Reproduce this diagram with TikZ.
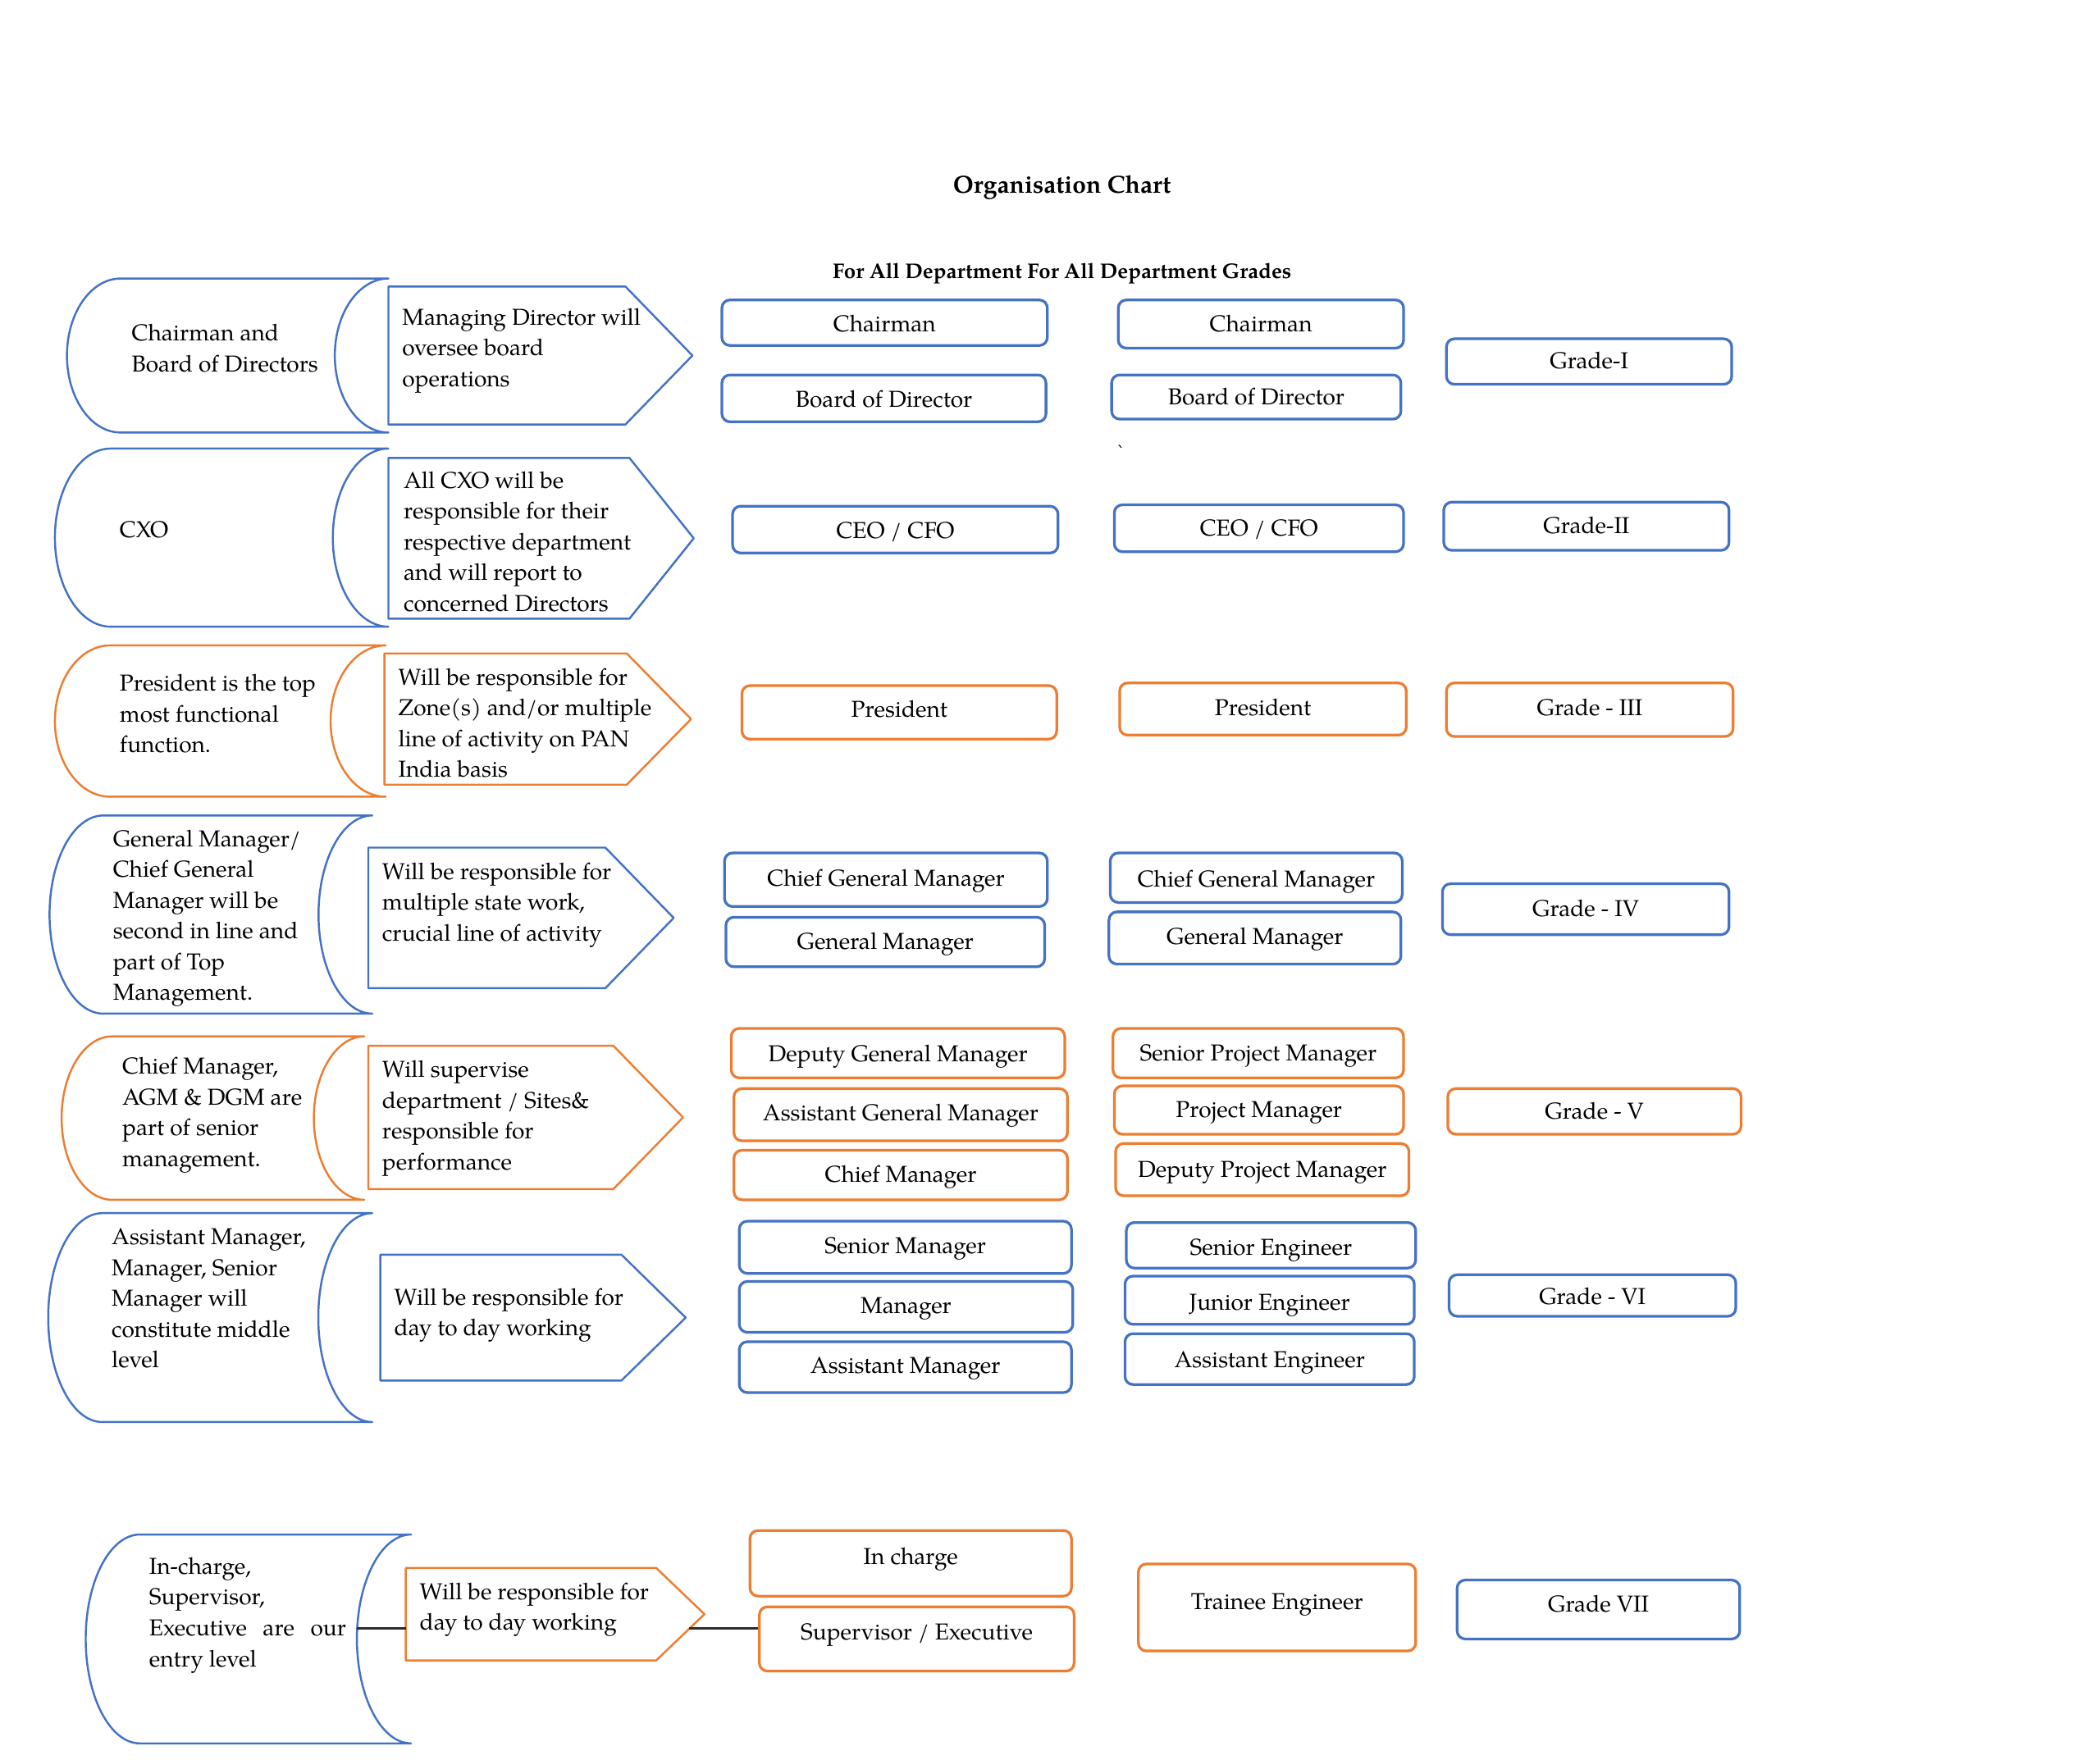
\documentclass[tikz,border=0pt]{standalone}
\usepackage{fontspec}
\setmainfont{TeX Gyre Pagella}
\newfontfamily\dejavu{DejaVu Sans}
\usetikzlibrary{calc}
\definecolor{oblue}{RGB}{68,114,196}
\definecolor{oorange}{RGB}{237,125,49}
\definecolor{connc}{RGB}{45,45,45}

\tikzset{
  shapeln/.style={line width=0.75pt, line join=round},
  rbox/.style={rectangle, rounded corners=3pt, line width=1pt, inner sep=0pt,
    text height=9.05pt, text depth=3.45pt, font=\fontsize{8.6}{11.5}\selectfont},
  txt/.style={align=left, inner sep=0pt, anchor=west, yshift=-1pt, font=\fontsize{8.6}{11.5}\selectfont},
  connline/.style={draw=connc, line width=0.8pt}
}

% scroll (stored data) shape: #1 name, #2 colour, #3 L, #4 T, #5 R, #6 B
\newcommand\ScrollShape[6]{%
  \pgfmathsetmacro\scA{(#5-#3)/6}%
  \pgfmathsetmacro\scM{(#4+#6)/2}%
  \pgfmathsetmacro\scH{(#6-#4)/2}%
  \pgfmathsetmacro\scKA{0.5523*\scA}%
  \pgfmathsetmacro\scKH{0.5523*\scH}%
  \draw[shapeln, draw=#2] ({#3+\scA},#4) -- (#5,#4)
    .. controls ({#5-\scKA},#4) and ({#5-\scA},{\scM-\scKH}) .. ({#5-\scA},\scM)
    .. controls ({#5-\scA},{\scM+\scKH}) and ({#5-\scKA},#6) .. (#5,#6)
    -- ({#3+\scA},#6)
    .. controls ({#3+\scA-\scKA},#6) and (#3,{\scM+\scKH}) .. (#3,\scM)
    .. controls (#3,{\scM-\scKH}) and ({#3+\scA-\scKA},#4) .. cycle;
  \coordinate (#1) at ({(#3+#5)/2},\scM);
}
% pentagon arrow: #1 name, #2 colour, #3 L, #4 T, #5 rect right, #6 B, #7 tip x
\newcommand\PentShape[7]{%
  \draw[shapeln, draw=#2] (#3,#4) -- (#5,#4) -- (#7,{(#4+#6)/2}) -- (#5,#6) -- (#3,#6) -- cycle;
  \coordinate (#1) at (#3,{(#4+#6)/2});
}
% rounded box: #1 name, #2 colour, #3 L, #4 T, #5 R, #6 B, #7 text
\newcommand\RBox[7]{%
  \node[rbox, draw=#2, minimum width={(#5-#3)*0.5pt}, minimum height={(#6-#4)*0.5pt}]
    (#1) at ({(#3+#5)/2},{(#4+#6)/2}) {#7};
}

\begin{document}
\begin{tikzpicture}[x=0.5pt,y=-0.5pt]
\useasboundingbox[fill=white] (0,0) rectangle (1568,1314);

% titles
\node[font=\fontsize{9.2}{11}\selectfont\bfseries, inner sep=0pt] (title) at (793,140) {Organisation Chart};
\node[font=\fontsize{7.9}{9}\selectfont\bfseries, inner sep=0pt] (subtitle) at (793,204) {For All Department For All Department Grades};

% left scroll shapes
\ScrollShape{s1}{oblue}{50}{208}{290}{323}
\ScrollShape{s2}{oblue}{41}{335}{290}{468}
\ScrollShape{s3}{oorange}{41}{482}{288}{595}
\ScrollShape{s4}{oblue}{37}{609}{278}{757}
\ScrollShape{s5}{oorange}{46}{774}{272}{896}
\ScrollShape{s6}{oblue}{36}{906}{278}{1062}
\ScrollShape{s7}{oblue}{64}{1146}{307}{1302}

% pentagons
\PentShape{p1}{oblue}{290}{214}{467}{317}{517}
\PentShape{p2}{oblue}{290}{342}{470}{462}{518}
\PentShape{p3}{oorange}{287}{488}{468}{586}{516}
\PentShape{p4}{oblue}{275}{633}{452}{738}{503}
\PentShape{p5}{oorange}{275}{781}{458}{888}{510}
\PentShape{p6}{oblue}{284}{937}{464}{1031}{512}
\PentShape{p7}{oorange}{303}{1171}{490}{1240}{526}

% texts in scroll shapes
\node[txt] (ts1) at (98,259.5) {\strut Chairman and\\Board of Directors\strut};
\node[txt] (ts2) at (89,395) {\strut CXO\strut};
\node[txt] (ts3) at (89,532.5) {\strut President is the top\\most functional\\function.\strut};
\node[txt] (ts4) at (84,683) {\strut General Manager/\\Chief General\\Manager will be\\second in line and\\part of Top\\Management.\strut};
\node[txt] (ts5) at (91,830) {\strut Chief Manager,\\AGM \& DGM are\\part of senior\\management.\strut};
\node[txt] (ts6) at (83,969) {\strut Assistant Manager,\\Manager, Senior\\Manager will\\constitute middle\\level\strut};
\node[txt] (ts7) at (111,1203.5) {\strut In-charge,\\Supervisor,\\\makebox[73.5pt][s]{Executive are our}\\entry level\strut};

% texts in pentagons
\node[txt] (tp1) at (300,259) {\strut Managing Director will\\oversee board\\operations\strut};
\node[txt] (tp2) at (301,404) {\strut All CXO will be\\responsible for their\\respective department\\and will report to\\concerned Directors\strut};
\node[txt] (tp3) at (297,539.5) {\strut Will be responsible for\\Zone(s) and/or multiple\\line of activity on PAN\\India basis\strut};
\node[txt] (tp4) at (285,673) {\strut Will be responsible for\\multiple state work,\\crucial line of activity\strut};
\node[txt] (tp5) at (285,832.5) {\strut Will supervise\\department / Sites\&\\responsible for\\performance\strut};
\node[txt] (tp6) at (294,979.5) {\strut Will be responsible for\\day to day working\strut};
\node[txt] (tp7) at (313,1199.5) {\strut Will be responsible for\\day to day working\strut};

% row 1
\RBox{c1a}{oblue}{539}{224}{782}{258}{\raisebox{-0.5pt}{Chairman}}
\RBox{c1b}{oblue}{539}{280}{781}{315}{\raisebox{-0.5pt}{Board of Director}}
\RBox{d1a}{oblue}{835}{224}{1048}{260}{Chairman}
\RBox{d1b}{oblue}{830}{280}{1046}{313}{Board of Director}
\RBox{g1}{oblue}{1080}{253}{1293}{287}{Grade-I}
\node[inner sep=0pt, font=\dejavu\fontsize{6}{7}\selectfont] (tick) at (837,337) {ˋ};
% row 2
\RBox{c2}{oblue}{547}{378}{790}{413}{\raisebox{-0.5pt}{CEO / CFO}}
\RBox{d2}{oblue}{832}{377}{1048}{412}{CEO / CFO}
\RBox{g2}{oblue}{1078}{375}{1291}{411}{Grade-II}
% row 3
\RBox{c3}{oorange}{554}{512}{789}{552}{\raisebox{1pt}{President}}
\RBox{d3}{oorange}{836}{510}{1050}{549}{\raisebox{0.5pt}{President}}
\RBox{g3}{oorange}{1080}{510}{1294}{550}{\raisebox{0.5pt}{Grade - III}}
% row 4
\RBox{c4a}{oblue}{541}{637}{782}{677}{\raisebox{0.5pt}{Chief General Manager}}
\RBox{c4b}{oblue}{542}{685}{780}{722}{General Manager}
\RBox{d4a}{oblue}{829}{637}{1047}{674}{\raisebox{-0.5pt}{Chief General Manager}}
\RBox{d4b}{oblue}{828}{681}{1046}{720}{\raisebox{0.5pt}{General Manager}}
\RBox{g4}{oblue}{1077}{660}{1291}{698}{Grade - IV}
% row 5
\RBox{c5a}{oorange}{546}{768}{795}{805}{\raisebox{-0.5pt}{Deputy General Manager}}
\RBox{c5b}{oorange}{548}{813}{797}{852}{\raisebox{0.5pt}{Assistant General Manager}}
\RBox{c5c}{oorange}{548}{859}{797}{896}{Chief Manager}
\RBox{d5a}{oorange}{831}{768}{1048}{805}{Senior Project Manager}
\RBox{d5b}{oorange}{832}{811}{1048}{847}{Project Manager}
\RBox{d5c}{oorange}{833}{854}{1052}{893}{Deputy Project Manager}
\RBox{g5}{oorange}{1081}{813}{1300}{847}{Grade - V}
% row 6
\RBox{c6a}{oblue}{552}{912}{800}{951}{\raisebox{0.5pt}{Senior Manager}}
\RBox{c6b}{oblue}{552}{957}{801}{995}{\raisebox{0.5pt}{Manager}}
\RBox{c6c}{oblue}{552}{1002}{800}{1040}{\raisebox{0.5pt}{Assistant Manager}}
\RBox{d6a}{oblue}{841}{913}{1057}{947}{\raisebox{-1pt}{Senior Engineer}}
\RBox{d6b}{oblue}{840}{953}{1056}{989}{\raisebox{-1pt}{Junior Engineer}}
\RBox{d6c}{oblue}{840}{996}{1056}{1034}{\raisebox{-0.5pt}{Assistant Engineer}}
\RBox{g6}{oblue}{1082}{952}{1296}{983}{\raisebox{-0.5pt}{Grade - VI}}
% row 7
\RBox{c7a}{oorange}{560}{1143}{800}{1192}{\raisebox{2.5pt}{In charge}}
\RBox{c7b}{oorange}{567}{1200}{802}{1248}{\raisebox{2.5pt}{Supervisor / Executive}}
\RBox{d7}{oorange}{850}{1168}{1057}{1233}{\raisebox{2pt}{Trainee Engineer}}
\RBox{g7}{oblue}{1088}{1180}{1299}{1224}{\raisebox{2pt}{Grade VII}}

% connectors in row 7
\coordinate (s7in) at (266.7,1216);
\coordinate (p7in) at (303,1216);
\coordinate (p7out) at (514.7,1216);
\draw[connline] (s7in) -- (p7in);
\draw[connline] (p7out) -- (p7out -| c7b.west);
\end{tikzpicture}
\end{document}
